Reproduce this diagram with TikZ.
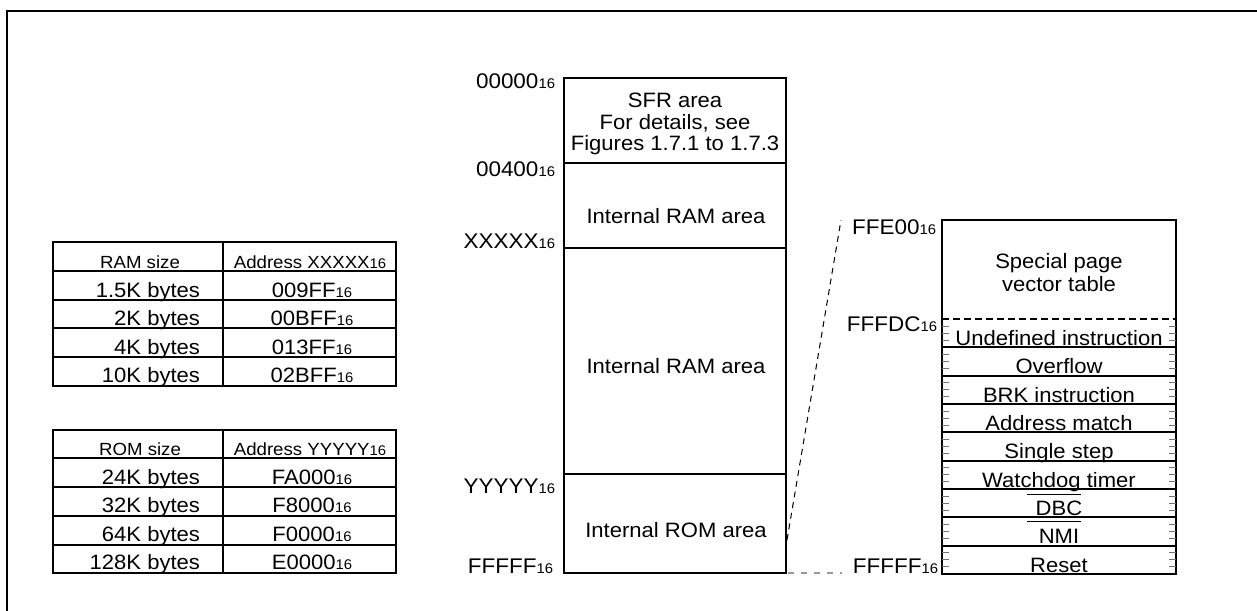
\documentclass[tikz,border=0pt]{standalone}
\usepackage{fontspec}
\setmainfont{Liberation Sans}[FakeStretch=1.06]
\newcommand{\hsub}[1]{{\fontsize{7}{8}\selectfont #1}}
\tikzset{
  frame/.style={line width=1.1pt},
  outer/.style={line width=1pt},
  inner/.style={line width=0.7pt},
  tick/.style={line width=0.5pt, black!55},
  txt/.style={inner sep=0pt, outer sep=0pt, font=\fontsize{10.4}{12.5}\selectfont},
  hdr/.style={inner sep=0pt, outer sep=0pt, font=\fontsize{8.8}{10.5}\selectfont, anchor=base},
  lab/.style={inner sep=0pt, outer sep=0pt, font=\fontsize{10.6}{12}\selectfont, anchor=base east},
  linkdash/.style={line width=0.5pt, dash pattern=on 3pt off 2.4pt},
  greydash/.style={line width=0.6pt, black!40, dash pattern=on 3pt off 3.5pt},
}
\begin{document}
\begin{tikzpicture}[x=0.5pt,y=-0.5pt]
\useasboundingbox (0,0) rectangle (1257,610);
\clip (0,0) rectangle (1257,610);
% outer frame (runs off the right and bottom edges)
\draw[frame] (7,640) -- (7,11) -- (1290,11);

% ---------------- RAM table ----------------
\draw[outer] (53,242) rectangle (396,386);
\draw[inner] (223,242) -- (223,386);
\foreach \y in {271,300,328,357} \draw[inner] (53,\y) -- (396,\y);
\node[hdr] (ramh1) at (140,268) {RAM size};
\node[hdr] (ramh2) at (310,268) {Address XXXXX\hsub{16}};
\node[txt, anchor=base east] (ram1) at (200,297) {1.5K bytes};
\node[txt, anchor=base east] (ram2) at (200,325) {2K bytes};
\node[txt, anchor=base east] (ram3) at (200,354) {4K bytes};
\node[txt, anchor=base east] (ram4) at (200,382) {10K bytes};
\node[txt, anchor=base] (ramv1) at (312,297) {009FF\hsub{16}};
\node[txt, anchor=base] (ramv2) at (312,325) {00BFF\hsub{16}};
\node[txt, anchor=base] (ramv3) at (312,354) {013FF\hsub{16}};
\node[txt, anchor=base] (ramv4) at (312,382) {02BFF\hsub{16}};

% ---------------- ROM table ----------------
\draw[outer] (53,430) rectangle (396,573);
\draw[inner] (223,430) -- (223,573);
\foreach \y in {458,487,516,545} \draw[inner] (53,\y) -- (396,\y);
\node[hdr] (romh1) at (140,455) {ROM size};
\node[hdr] (romh2) at (310,455) {Address YYYYY\hsub{16}};
\node[txt, anchor=base east] (rom1) at (200,484) {24K bytes};
\node[txt, anchor=base east] (rom2) at (200,512) {32K bytes};
\node[txt, anchor=base east] (rom3) at (200,541) {64K bytes};
\node[txt, anchor=base east] (rom4) at (200,569) {128K bytes};
\node[txt, anchor=base] (romv1) at (312,484) {FA000\hsub{16}};
\node[txt, anchor=base] (romv2) at (312,512) {F8000\hsub{16}};
\node[txt, anchor=base] (romv3) at (312,541) {F0000\hsub{16}};
\node[txt, anchor=base] (romv4) at (312,569) {E0000\hsub{16}};

% ---------------- memory map ----------------
\draw[outer] (564,78) rectangle (786,573);
\foreach \y in {163,248,474} \draw[outer] (564,\y) -- (786,\y);
\node[txt, anchor=base] (sfr1) at (675,108) {SFR area};
\node[txt, anchor=base] (sfr2) at (675,129) {For details, see};
\node[txt, anchor=base] (sfr3) at (675,150) {Figures 1.7.1 to 1.7.3};
\node[txt, anchor=base] (ram) at (676,223) {Internal RAM area};
\node[txt, anchor=base] (ramb) at (676,373) {Internal RAM area};
\node[txt, anchor=base] (rom) at (676,537) {Internal ROM area};
\node[lab] (a0) at (555,89) {00000\hsub{16}};
\node[lab] (a1) at (555,176) {00400\hsub{16}};
\node[lab] (a2) at (555,248) {XXXXX\hsub{16}};
\node[lab] (a3) at (555,493) {YYYYY\hsub{16}};
\node[lab] (a4) at (553,573) {FFFFF\hsub{16}};

% ---------------- vector table ----------------
\draw[outer] (942,220) rectangle (1176,574);
\draw[line width=0.7pt, dash pattern=on 3.3pt off 2.2pt] (942,319) -- (1176,319);
\foreach \k in {1,...,8} \draw[outer] (942,{319+28.333*\k}) -- (1176,{319+28.333*\k});
\foreach \k in {0,...,8} {
  \foreach \j in {1,2,3} {
    \draw[tick] (942,{319+28.333*\k+7.083*\j}) -- (949,{319+28.333*\k+7.083*\j});
    \draw[tick] (1169,{319+28.333*\k+7.083*\j}) -- (1176,{319+28.333*\k+7.083*\j});
  }
}
\node[txt, anchor=base] (sp1) at (1059,268) {Special page};
\node[txt, anchor=base] (sp2) at (1059,291) {vector table};
\foreach \t [count=\i] in {Undefined instruction, Overflow, BRK instruction, Address match, Single step, Watchdog timer, DBC, NMI, Reset}
  \node[txt, anchor=base] (v\i) at (1059,{319+28.333*\i-2}) {\t};
\draw[line width=0.5pt] (1027,494) -- (1081,494);
\draw[line width=0.5pt] (1027,521) -- (1081,521);
\node[lab] (b0) at (936,234) {FFE00\hsub{16}};
\node[lab] (b1) at (937,331) {FFFDC\hsub{16}};
\node[lab] (b2) at (938,573) {FFFFF\hsub{16}};

% ---------------- connectors ----------------
\coordinate (romtap) at (787,540);
\coordinate (vtop) at (841,220);
\coordinate (mapend) at (788,573);
\coordinate (vend) at (842,573);
\draw[linkdash] (romtap) -- (vtop);
\draw[greydash] (mapend) -- (vend);
\end{tikzpicture}
\end{document}
